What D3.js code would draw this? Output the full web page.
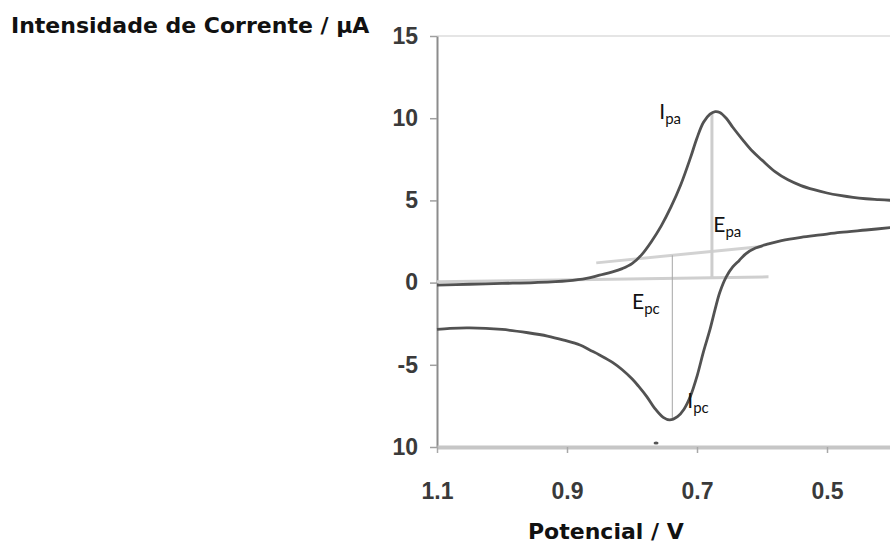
<!DOCTYPE html>
<html>
<head>
<meta charset="utf-8">
<script src="https://cdn.jsdelivr.net/npm/d3@7"></script>
<style>
  body { margin: 0; background: #fff; }
  svg { display: block; }
</style>
</head>
<body>
<div id="chart"></div>
<script>
// Chart data
const xTicks = [1.1, 0.9, 0.7, 0.5];
const xTickLabels = ['1.1', '0.9', '0.7', '0.5'];
const yTicks = [15, 10, 5, 0, -5, -10];
const yTickLabels = ['15', '10', '5', '0', '-5', '10'];

// anodic sweep (upper branch)
const anodicE = [1.10, 1.05, 1.00, 0.95, 0.90, 0.87, 0.85, 0.83, 0.815, 0.80, 0.785, 0.77, 0.755, 0.74, 0.725, 0.71, 0.70, 0.69, 0.68, 0.672, 0.665, 0.655, 0.645, 0.63, 0.615, 0.60, 0.58, 0.56, 0.54, 0.52, 0.50, 0.48, 0.46, 0.44, 0.42, 0.40];
const anodicI = [-0.15, -0.1, -0.05, 0.0, 0.1, 0.25, 0.45, 0.65, 0.85, 1.15, 1.7, 2.5, 3.45, 4.6, 5.95, 7.6, 8.8, 9.75, 10.25, 10.4, 10.35, 10.0, 9.45, 8.7, 8.0, 7.45, 6.75, 6.25, 5.9, 5.65, 5.45, 5.3, 5.18, 5.1, 5.05, 5.0];

// cathodic sweep (lower branch)
const cathodicE = [0.40, 0.44, 0.48, 0.51, 0.54, 0.57, 0.59, 0.61, 0.625, 0.635, 0.645, 0.655, 0.665, 0.672, 0.68, 0.69, 0.70, 0.71, 0.72, 0.73, 0.742, 0.752, 0.765, 0.777, 0.79, 0.80, 0.815, 0.83, 0.85, 0.865, 0.88, 0.905, 0.93, 0.96, 1.00, 1.05, 1.08, 1.10];
const cathodicI = [3.35, 3.2, 3.05, 2.9, 2.75, 2.55, 2.35, 2.1, 1.75, 1.35, 0.95, 0.35, -0.6, -1.6, -2.85, -4.2, -5.7, -6.9, -7.7, -8.15, -8.35, -8.2, -7.65, -6.95, -6.3, -5.85, -5.3, -4.85, -4.4, -4.1, -3.8, -3.5, -3.25, -3.05, -2.85, -2.75, -2.78, -2.85];

// construction lines (baselines and peak verticals)
const baseE = [1.10, 0.59];
const baseI = [0.05, 0.35];
const slopeE = [0.855, 0.60];
const slopeI = [1.2, 2.2];
const epaE = [0.677, 0.677];
const epaI = [10.3, 0.33];
const epcE = [0.738, 0.738];
const epcI = [1.66, -8.3];

// annotation labels
const labelMain = ['I', 'E', 'E', 'I'];
const labelSub = ['pa', 'pa', 'pc', 'pc'];
const labelE = [0.758, 0.675, 0.80, 0.715];
const labelI = [9.98, 3.1, -1.58, -7.6];

const W = 890, H = 546;
const svg = d3.select('#chart').append('svg')
  .attr('width', W)
  .attr('height', H);

const x = d3.scaleLinear().domain([1.1, 0.4]).range([437, 892]);
const y = d3.scaleLinear().domain([-10, 15]).range([447, 36]);

const zip = (a, b) => a.map((v, i) => [v, b[i]]);
const line = d3.line()
  .x(d => x(d[0]))
  .y(d => y(d[1]));
const smooth = d3.line()
  .x(d => x(d[0]))
  .y(d => y(d[1]))
  .curve(d3.curveCatmullRom.alpha(0.5));

// top frame line
svg.append('line')
  .attr('x1', x(1.1)).attr('x2', W)
  .attr('y1', y(15)).attr('y2', y(15))
  .attr('stroke', '#dcdcdc')
  .attr('stroke-width', 1.5);

const tickFont = sel => sel
  .attr('font-family', '"Liberation Sans", Arial, sans-serif')
  .attr('font-weight', 'bold')
  .attr('font-size', 23)
  .attr('fill', '#3a3a3a');

// y axis
const yAxis = svg.append('g')
  .attr('transform', `translate(${x(1.1)},0)`)
  .call(d3.axisLeft(y)
    .tickValues(yTicks)
    .tickFormat((d, i) => yTickLabels[i])
    .tickSize(7)
    .tickSizeOuter(0)
    .tickPadding(12));
yAxis.select('.domain').attr('stroke', '#8c8c8c').attr('stroke-width', 2);
yAxis.selectAll('.tick line').attr('stroke', '#a0a0a0').attr('stroke-width', 1.5);
yAxis.selectAll('.tick text').call(tickFont);

// x axis
const xAxis = svg.append('g')
  .attr('transform', `translate(0,${y(-10)})`)
  .call(d3.axisBottom(x)
    .tickValues(xTicks)
    .tickFormat((d, i) => xTickLabels[i])
    .tickSize(6)
    .tickSizeOuter(0)
    .tickPadding(30));
xAxis.select('.domain').attr('stroke', '#c6c6c6').attr('stroke-width', 4);
xAxis.selectAll('.tick line').attr('stroke', '#a8a8a8').attr('stroke-width', 1.5);
xAxis.selectAll('.tick text').call(tickFont);

// construction lines
svg.append('path')
  .attr('d', line(zip(baseE, baseI)))
  .attr('fill', 'none')
  .attr('stroke', '#cfcfcf')
  .attr('stroke-width', 3);
svg.append('path')
  .attr('d', line(zip(slopeE, slopeI)))
  .attr('fill', 'none')
  .attr('stroke', '#d2d2d2')
  .attr('stroke-width', 3);
svg.append('path')
  .attr('d', line(zip(epaE, epaI)))
  .attr('fill', 'none')
  .attr('stroke', '#cdcdcd')
  .attr('stroke-width', 3);
svg.append('path')
  .attr('d', line(zip(epcE, epcI)))
  .attr('fill', 'none')
  .attr('stroke', '#a6a6a6')
  .attr('stroke-width', 1);

// voltammogram branches
[zip(anodicE, anodicI), zip(cathodicE, cathodicI)].forEach(pts => {
  svg.append('path')
    .attr('d', smooth(pts))
    .attr('fill', 'none')
    .attr('stroke', '#525252')
    .attr('stroke-width', 2.8)
    .attr('stroke-linejoin', 'round');
});

// small speck on the bottom axis
svg.append('ellipse')
  .attr('cx', x(0.763)).attr('cy', y(-9.75))
  .attr('rx', 2.5).attr('ry', 1.5)
  .attr('fill', '#555');

// peak labels
labelMain.forEach((m, i) => {
  const t = svg.append('text')
    .attr('x', x(labelE[i]))
    .attr('y', y(labelI[i]))
    .attr('font-family', 'Lato, "Open Sans", sans-serif')
    .attr('font-size', 21)
    .attr('fill', '#111');
  t.append('tspan').text(m);
  t.append('tspan')
    .attr('dy', 5)
    .attr('font-size', 15)
    .text(labelSub[i]);
});

// axis titles
svg.append('text')
  .attr('x', 11)
  .attr('y', 33)
  .attr('font-family', '"DejaVu Sans", sans-serif')
  .attr('font-weight', 'bold')
  .attr('font-size', 22)
  .attr('fill', '#111')
  .text('Intensidade de Corrente / μA');

svg.append('text')
  .attr('x', 528)
  .attr('y', 539)
  .attr('font-family', '"DejaVu Sans", sans-serif')
  .attr('font-weight', 'bold')
  .attr('font-size', 22)
  .attr('fill', '#111')
  .text('Potencial / V');
</script>
</body>
</html>
